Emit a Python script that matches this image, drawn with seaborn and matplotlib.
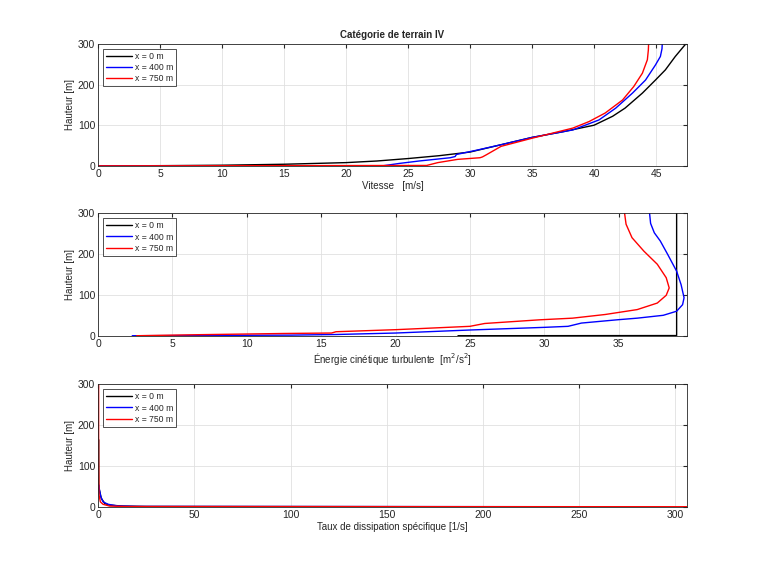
import numpy as np
import pandas as pd
import seaborn as sns
import matplotlib.pyplot as plt
from matplotlib import font_manager

# Vitesse [m/s] vs hauteur [m]
u_x0 = [0, 5, 10, 15, 20, 22.5, 25, 27.5, 30, 32.5, 35, 37.5, 40, 41.5, 42.5, 43.9, 44.95,
        45.75, 46.55, 47.4]
z_u_x0 = [0, 0.5, 1.6, 4, 8, 12, 18, 25, 34, 52, 70, 84, 100, 122, 142, 179, 211, 236, 269, 300]
u_x400 = [0, 23.0, 24.3, 25.9, 28.4, 28.8, 28.9, 30.6, 32.5, 35, 38.3, 40.4, 41.75, 43.1,
          44.15, 44.95, 45.35, 45.48, 45.5]
z_u_x400 = [0, 0.3, 6, 12, 20, 23, 28, 39, 52, 70, 88.5, 113, 142, 179, 211, 248, 269, 288, 300]
u_x750 = [0, 26.5, 27.4, 29.0, 30.8, 31.0, 31.3, 32.5, 35, 38.3, 39.6, 40.9, 42.3, 43.2,
          43.9, 44.3, 44.38, 44.4]
z_u_x750 = [0, 1.0, 8, 16, 20, 22, 27, 48, 68, 93, 109, 130, 162, 195, 228, 261, 285, 300]

# Energie cinetique turbulente [m2/s2]
k_x0 = [24.2, 38.9, 38.9]
z_k_x0 = [0, 0.4, 300]
k_x400 = [2.3, 6.0, 13.0, 16.0, 20.0, 25.0, 30.0, 31.6, 32.5, 34.9, 36.25, 38.0, 38.9, 39.3,
          39.4, 39.2, 38.9, 38.3, 37.8, 37.4, 37.15, 37.08]
z_k_x400 = [0, 0.5, 1.5, 3, 6.6, 14, 20.5, 23, 31, 39, 43, 50, 60, 76, 93, 125, 158, 199, 232,
            252, 275, 300]
k_x750 = [2.6, 6.7, 12.5, 15.7, 16.0, 20.0, 25.0, 26.0, 29.7, 31.9, 34.1, 36.25, 37.6, 38.2,
          38.4, 38.2, 37.6, 36.7, 35.9, 35.5, 35.4]
z_k_x750 = [0, 2.5, 5.5, 6.6, 9.8, 14.8, 23, 30, 39, 43, 52, 64, 80, 99, 117, 142, 175, 207,
            240, 273, 300]

# Taux de dissipation specifique [1/s]
w_x0 = [200, 25, 13, 6, 3.5, 1.7, 0.5, 0.35, 0.35]
z_w_x0 = [0, 0.6, 1.6, 4, 8, 20.5, 45, 53, 164]
w_x400 = [250, 20, 10, 5.2, 2.6, 1.4, 0.6, 0.5]
z_w_x400 = [0, 0.8, 2, 6, 12, 25, 45, 53]
w_x750 = [306, 15, 6, 2.6, 1.2, 0.5, 0.3, 0.3]
z_w_x750 = [0, 0.5, 1.6, 6, 12, 29, 120, 300]

labels = ['x = 0 m', 'x = 400 m', 'x = 750 m']
colors = {'x = 0 m': 'black', 'x = 400 m': 'blue', 'x = 750 m': 'red'}


def make_df(xs, zs):
    frames = []
    for lab, x, z in zip(labels, xs, zs):
        frames.append(pd.DataFrame({'val': x, 'z': z, 'pos': lab}))
    return pd.concat(frames, ignore_index=True)


df_u = make_df([u_x0, u_x400, u_x750], [z_u_x0, z_u_x400, z_u_x750])
df_k = make_df([k_x0, k_x400, k_x750], [z_k_x0, z_k_x400, z_k_x750])
df_w = make_df([w_x0, w_x400, w_x750], [z_w_x0, z_w_x400, z_w_x750])

sns.set_style('white')
plt.rcParams['font.family'] = ['Liberation Sans', 'DejaVu Sans']
plt.rcParams['font.size'] = 7

installed = {f.name for f in font_manager.fontManager.ttflist}
if 'Liberation Sans Narrow' in installed:
    legend_font = {'family': 'Liberation Sans Narrow', 'size': 7}
else:
    legend_font = {'family': 'Liberation Sans', 'size': 6.2}

fig = plt.figure(figsize=(7.6, 5.7), dpi=100)
positions = [[0.129, 0.709, 0.775, 0.214],
             [0.129, 0.411, 0.775, 0.215],
             [0.129, 0.111, 0.775, 0.215]]
panels = [(df_u, 'Vitesse   [m/s]', (0, 47.5), np.arange(0, 46, 5)),
          (df_k, 'Énergie cinétique turbulente  [m$^2$/s$^2$]', (0, 39.6), np.arange(0, 36, 5)),
          (df_w, 'Taux de dissipation spécifique [1/s]', (0, 306), np.arange(0, 301, 50))]

for i, (df, xlabel, xlim, xticks) in enumerate(panels):
    ax = fig.add_axes(positions[i])
    sns.lineplot(data=df, x='val', y='z', hue='pos', hue_order=labels, palette=colors,
                 sort=False, estimator=None, units='pos', linewidth=1.0, ax=ax)
    ax.set_xlim(*xlim)
    ax.set_ylim(0, 300)
    ax.set_xticks(xticks)
    ax.set_yticks([0, 100, 200, 300])
    ax.grid(True, color='#e0e0e0', linewidth=0.6)
    ax.tick_params(direction='in', length=3, top=True, right=True, labelsize=7.5,
                   color='#262626', labelcolor='#262626', pad=2)
    for s in ax.spines.values():
        s.set_color('#262626')
        s.set_linewidth(0.6)
    ax.set_xlabel(xlabel, fontsize=7, labelpad=2)
    ax.set_ylabel('Hauteur [m]', fontsize=7, labelpad=2)
    leg = ax.legend(loc='upper left', prop=legend_font, frameon=True, fancybox=False,
                    handlelength=3.0, borderpad=0.35, labelspacing=0.25,
                    handletextpad=0.3, borderaxespad=0.6)
    leg.get_frame().set_edgecolor('black')
    leg.get_frame().set_linewidth(0.6)
    if i == 0:
        ax.set_title('Catégorie de terrain IV', fontsize=7, fontweight='bold', pad=4)

plt.savefig('out.png', dpi=100)
